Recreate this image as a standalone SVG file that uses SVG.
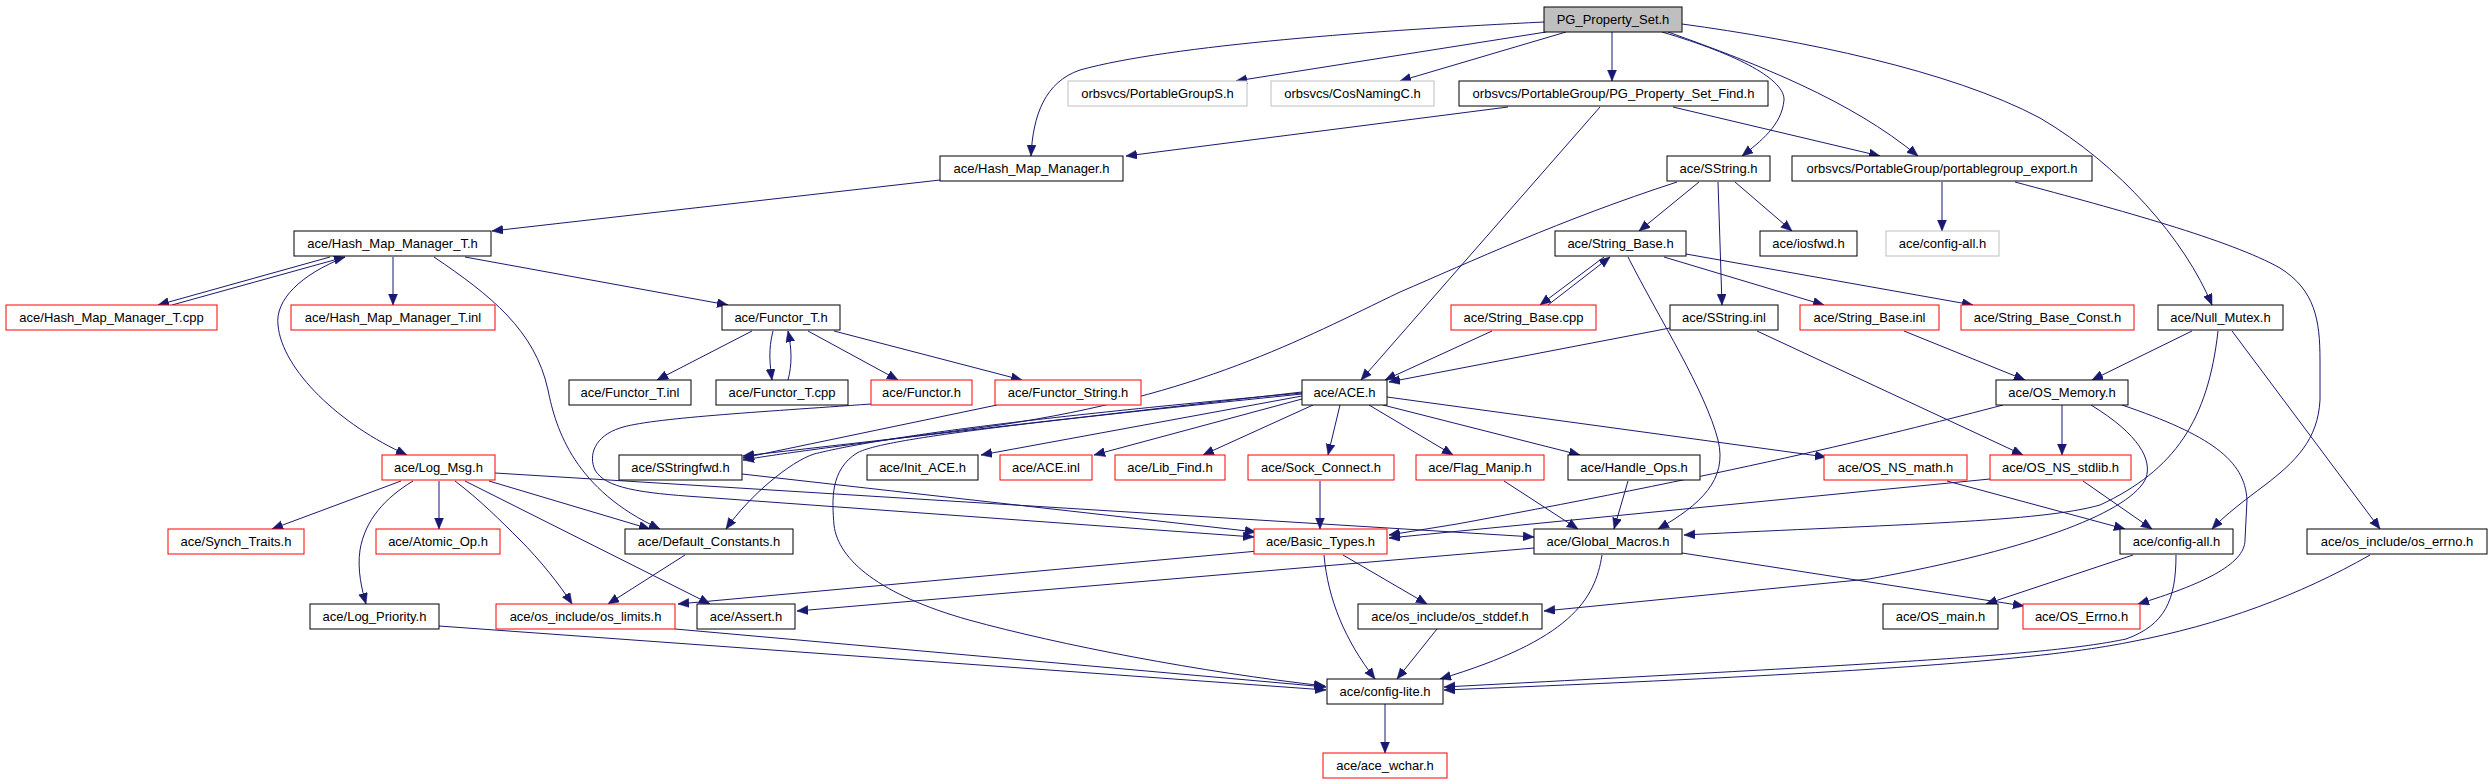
<svg xmlns="http://www.w3.org/2000/svg" width="2491" height="784" viewBox="0 0 2491 784">
<style>
rect{fill:#fff;stroke:#000;stroke-width:1}
rect.r{stroke:#f00}
rect.g{stroke:#bfbfbf}
rect.s{fill:#bfbfbf}
text{font-family:"Liberation Sans",Arial,sans-serif;font-size:13px;text-anchor:middle;fill:#000}
#edges path{fill:none;stroke:#191970;stroke-width:1;marker-end:url(#a)}
</style>
<defs>
<marker id="a" markerUnits="userSpaceOnUse" markerWidth="12" markerHeight="10" refX="11" refY="4.5" orient="auto">
<path d="M0,0 L11,4.5 L0,9 z" fill="#191970" stroke="#191970" stroke-width="0.5"/>
</marker>
</defs>
<rect x="0" y="0" width="2491" height="784" style="fill:#fff;stroke:none"/>
<g id="edges">
<path d="M1544,22 C1380,30 1170,45 1080,70 C1045,82 1033,115 1031,156"/>
<path d="M1546,32 L1236,81"/>
<path d="M1566,32 L1400,81"/>
<path d="M1612,32 L1612,81"/>
<path d="M1662,32 C1740,55 1785,80 1784,100 C1782,125 1760,142 1742,156"/>
<path d="M1668,32 C1760,65 1850,100 1918,156"/>
<path d="M1682,24 C1800,40 1950,70 2040,118 C2120,165 2185,240 2212,305"/>
<path d="M1508,107 L1126,156"/>
<path d="M1600,107 L1361,380"/>
<path d="M1673,107 L1880,156"/>
<path d="M940,180 L492,231"/>
<path d="M330,257 L158,305"/>
<path d="M172,305 L345,257"/>
<path d="M393,257 L393,305"/>
<path d="M345,257 C300,275 275,300 278,325 C282,370 340,425 407,455"/>
<path d="M465,257 L728,305"/>
<path d="M434,257 C490,295 535,330 548,390 C556,430 575,490 660,529"/>
<path d="M752,331 L657,380"/>
<path d="M773,331 C768,350 770,365 772,380"/>
<path d="M788,380 C792,365 792,350 788,331"/>
<path d="M808,331 L898,380"/>
<path d="M834,331 L1022,380"/>
<path d="M997,405 L743,458"/>
<path d="M871,404 C760,412 650,418 620,428 C595,436 588,455 595,470 C605,488 640,493 700,497 L1254,537"/>
<path d="M1699,182 L1639,231"/>
<path d="M1735,182 L1792,231"/>
<path d="M1718,182 L1722,305"/>
<path d="M1677,182 C1560,220 1470,262 1400,292 C1300,340 1200,395 1000,425 C850,445 790,452 743,460"/>
<path d="M1604,257 L1540,305"/>
<path d="M1548,305 L1610,257"/>
<path d="M1664,257 L1824,305"/>
<path d="M1686,254 L1973,305"/>
<path d="M1628,257 C1660,320 1705,390 1718,440 C1728,480 1700,505 1658,529"/>
<path d="M1492,331 L1385,380"/>
<path d="M1670,328 L1389,382"/>
<path d="M1757,331 L2023,455"/>
<path d="M1904,331 L2025,380"/>
<path d="M2192,331 L2092,380"/>
<path d="M2218,331 C2208,420 2175,470 2100,505 C2040,522 1900,524 1684,535"/>
<path d="M2091,405 C2140,435 2152,460 2146,478 C2132,510 2040,548 1869,579 L1544,611"/>
<path d="M2232,331 L2380,529"/>
<path d="M2062,405 L2062,455"/>
<path d="M2122,405 C2210,435 2245,460 2247,500 L2245,540 C2245,565 2200,585 2138,604"/>
<path d="M2083,481 L2152,529"/>
<path d="M1947,481 L2125,529"/>
<path d="M1990,479 L1389,538"/>
<path d="M2003,405 C1900,432 1750,470 1457,524 L1389,535"/>
<path d="M1387,397 L1826,457"/>
<path d="M1383,405 L1580,455"/>
<path d="M1369,405 L1453,455"/>
<path d="M1340,405 L1328,455"/>
<path d="M1313,405 L1203,455"/>
<path d="M1302,399 L1094,455"/>
<path d="M1302,396 L981,455"/>
<path d="M1302,392 L743,456"/>
<path d="M1302,393 C1000,420 870,440 814,454 C790,462 750,495 726,529"/>
<path d="M1302,394 C1000,425 880,440 857,453 C830,470 832,500 834,525 C838,560 880,595 969,620 C1060,645 1200,672 1325,686"/>
<path d="M1320,481 L1320,529"/>
<path d="M1504,481 L1578,529"/>
<path d="M1628,481 L1614,529"/>
<path d="M401,481 L272,529"/>
<path d="M439,481 L439,529"/>
<path d="M413,481 C385,498 365,520 360,550 C357,570 362,590 366,604"/>
<path d="M455,481 C480,500 500,520 520,540 C540,560 560,585 572,604"/>
<path d="M465,481 L710,604"/>
<path d="M489,481 L650,529"/>
<path d="M495,473 L1534,537"/>
<path d="M742,474 L1256,532"/>
<path d="M685,555 L608,604"/>
<path d="M1258,551 L678,604"/>
<path d="M1534,548 L797,611"/>
<path d="M1343,555 L1427,604"/>
<path d="M1324,555 C1328,600 1345,640 1375,679"/>
<path d="M1437,629 L1397,679"/>
<path d="M1602,555 C1595,600 1570,640 1440,679"/>
<path d="M1682,553 L2024,606"/>
<path d="M2133,555 L1986,604"/>
<path d="M2176,555 C2176,600 2165,625 2126,639 C2050,655 1900,663 1444,687"/>
<path d="M2370,555 C2300,595 2220,625 2130,642 C2050,658 1900,672 1444,690"/>
<path d="M439,626 L1326,690"/>
<path d="M675,629 L1326,687"/>
<path d="M1385,704 L1385,753"/>
<path d="M1942,182 L1942,231"/>
<path d="M2015,182 C2120,210 2230,240 2280,268 C2315,290 2320,320 2320,360 L2320,400 C2318,440 2295,462 2265,485 C2245,500 2225,515 2212,529"/>
</g>
<g id="n0"><rect class="s" x="1544" y="7" width="138" height="25"/><text x="1613" y="24">PG_Property_Set.h</text></g>
<g id="n1"><rect class="g" x="1068" y="81" width="179" height="25"/><text x="1157.5" y="98">orbsvcs/PortableGroupS.h</text></g>
<g id="n2"><rect class="g" x="1271" y="81" width="163" height="25"/><text x="1352.5" y="98">orbsvcs/CosNamingC.h</text></g>
<g id="n3"><rect x="1459" y="81" width="309" height="25"/><text x="1613.5" y="98">orbsvcs/PortableGroup/PG_Property_Set_Find.h</text></g>
<g id="n4"><rect x="940" y="156" width="183" height="25"/><text x="1031.5" y="173">ace/Hash_Map_Manager.h</text></g>
<g id="n5"><rect x="1667" y="156" width="103" height="25"/><text x="1718.5" y="173">ace/SString.h</text></g>
<g id="n6"><rect x="1792" y="156" width="300" height="25"/><text x="1942" y="173">orbsvcs/PortableGroup/portablegroup_export.h</text></g>
<g id="n8"><rect x="294" y="231" width="197" height="25"/><text x="392.5" y="248">ace/Hash_Map_Manager_T.h</text></g>
<g id="n9"><rect x="1555" y="231" width="131" height="25"/><text x="1620.5" y="248">ace/String_Base.h</text></g>
<g id="n10"><rect x="1760" y="231" width="97" height="25"/><text x="1808.5" y="248">ace/iosfwd.h</text></g>
<g id="n11"><rect class="g" x="1886" y="231" width="113" height="25"/><text x="1942.5" y="248">ace/config-all.h</text></g>
<g id="n12"><rect class="r" x="6" y="305" width="211" height="25"/><text x="111.5" y="322">ace/Hash_Map_Manager_T.cpp</text></g>
<g id="n13"><rect class="r" x="291" y="305" width="204" height="25"/><text x="393" y="322">ace/Hash_Map_Manager_T.inl</text></g>
<g id="n14"><rect x="722" y="305" width="118" height="25"/><text x="781" y="322">ace/Functor_T.h</text></g>
<g id="n15"><rect class="r" x="1451" y="305" width="145" height="25"/><text x="1523.5" y="322">ace/String_Base.cpp</text></g>
<g id="n16"><rect x="1670" y="305" width="108" height="25"/><text x="1724" y="322">ace/SString.inl</text></g>
<g id="n17"><rect class="r" x="1800" y="305" width="139" height="25"/><text x="1869.5" y="322">ace/String_Base.inl</text></g>
<g id="n18"><rect class="r" x="1961" y="305" width="173" height="25"/><text x="2047.5" y="322">ace/String_Base_Const.h</text></g>
<g id="n7"><rect x="2158" y="305" width="125" height="25"/><text x="2220.5" y="322">ace/Null_Mutex.h</text></g>
<g id="n19"><rect x="569" y="380" width="122" height="25"/><text x="630" y="397">ace/Functor_T.inl</text></g>
<g id="n20"><rect x="716" y="380" width="132" height="25"/><text x="782" y="397">ace/Functor_T.cpp</text></g>
<g id="n21"><rect class="r" x="871" y="380" width="101" height="25"/><text x="921.5" y="397">ace/Functor.h</text></g>
<g id="n22"><rect class="r" x="995" y="380" width="146" height="25"/><text x="1068" y="397">ace/Functor_String.h</text></g>
<g id="n23"><rect x="1302" y="380" width="85" height="25"/><text x="1344.5" y="397">ace/ACE.h</text></g>
<g id="n24"><rect x="1996" y="380" width="132" height="25"/><text x="2062" y="397">ace/OS_Memory.h</text></g>
<g id="n25"><rect class="r" x="382" y="455" width="113" height="25"/><text x="438.5" y="472">ace/Log_Msg.h</text></g>
<g id="n26"><rect x="619" y="455" width="123" height="25"/><text x="680.5" y="472">ace/SStringfwd.h</text></g>
<g id="n27"><rect x="867" y="455" width="111" height="25"/><text x="922.5" y="472">ace/Init_ACE.h</text></g>
<g id="n28"><rect class="r" x="1000" y="455" width="92" height="25"/><text x="1046" y="472">ace/ACE.inl</text></g>
<g id="n29"><rect class="r" x="1115" y="455" width="110" height="25"/><text x="1170" y="472">ace/Lib_Find.h</text></g>
<g id="n30"><rect class="r" x="1248" y="455" width="146" height="25"/><text x="1321" y="472">ace/Sock_Connect.h</text></g>
<g id="n31"><rect class="r" x="1416" y="455" width="128" height="25"/><text x="1480" y="472">ace/Flag_Manip.h</text></g>
<g id="n32"><rect x="1568" y="455" width="132" height="25"/><text x="1634" y="472">ace/Handle_Ops.h</text></g>
<g id="n33"><rect class="r" x="1824" y="455" width="143" height="25"/><text x="1895.5" y="472">ace/OS_NS_math.h</text></g>
<g id="n34"><rect class="r" x="1990" y="455" width="141" height="25"/><text x="2060.5" y="472">ace/OS_NS_stdlib.h</text></g>
<g id="n35"><rect class="r" x="168" y="529" width="136" height="25"/><text x="236" y="546">ace/Synch_Traits.h</text></g>
<g id="n36"><rect class="r" x="376" y="529" width="124" height="25"/><text x="438" y="546">ace/Atomic_Op.h</text></g>
<g id="n37"><rect x="625" y="529" width="168" height="25"/><text x="709" y="546">ace/Default_Constants.h</text></g>
<g id="n38"><rect class="r" x="1254" y="529" width="133" height="25"/><text x="1320.5" y="546">ace/Basic_Types.h</text></g>
<g id="n39"><rect x="1534" y="529" width="148" height="25"/><text x="1608" y="546">ace/Global_Macros.h</text></g>
<g id="n40"><rect x="2120" y="529" width="113" height="25"/><text x="2176.5" y="546">ace/config-all.h</text></g>
<g id="n41"><rect x="2307" y="529" width="180" height="25"/><text x="2397" y="546">ace/os_include/os_errno.h</text></g>
<g id="n42"><rect x="310" y="604" width="129" height="25"/><text x="374.5" y="621">ace/Log_Priority.h</text></g>
<g id="n43"><rect class="r" x="496" y="604" width="179" height="25"/><text x="585.5" y="621">ace/os_include/os_limits.h</text></g>
<g id="n44"><rect x="697" y="604" width="98" height="25"/><text x="746" y="621">ace/Assert.h</text></g>
<g id="n45"><rect x="1358" y="604" width="184" height="25"/><text x="1450" y="621">ace/os_include/os_stddef.h</text></g>
<g id="n46"><rect x="1883" y="604" width="115" height="25"/><text x="1940.5" y="621">ace/OS_main.h</text></g>
<g id="n47"><rect class="r" x="2023" y="604" width="117" height="25"/><text x="2081.5" y="621">ace/OS_Errno.h</text></g>
<g id="n48"><rect x="1327" y="679" width="116" height="25"/><text x="1385" y="696">ace/config-lite.h</text></g>
<g id="n49"><rect class="r" x="1323" y="753" width="124" height="25"/><text x="1385" y="770">ace/ace_wchar.h</text></g>
</svg>
